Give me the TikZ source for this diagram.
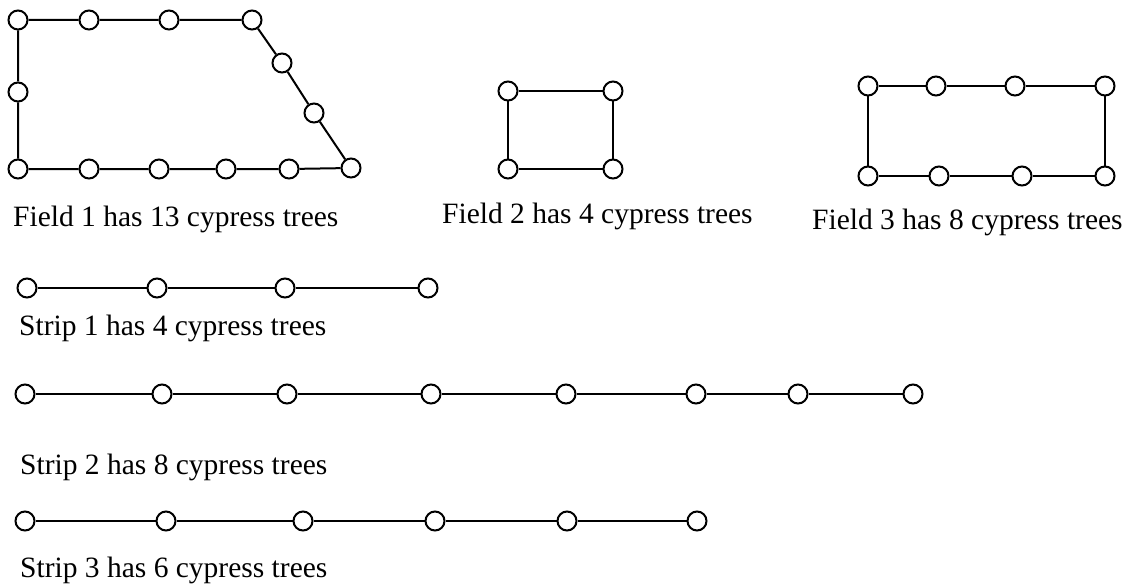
\documentclass[tikz,border=0pt]{standalone}
\usepackage{fontspec}
\setmainfont{Liberation Serif}
\begin{document}
\begin{tikzpicture}[x=1pt,y=-1pt,
  tree/.style={circle,draw,fill=white,line width=2pt,minimum size=19pt,inner sep=0pt},
  edge/.style={line width=2pt},
  lbl/.style={anchor=base west,inner sep=0pt,font=\fontsize{29.5}{35}\selectfont}]
\useasboundingbox (0,0) rectangle (1128,586);
% Field 1
\node[tree] (a1) at (18,20) {};
\node[tree] (a2) at (89,20) {};
\node[tree] (a3) at (169,20) {};
\node[tree] (a4) at (252,20) {};
\node[tree] (a5) at (282,63) {};
\node[tree] (a6) at (314,113) {};
\node[tree] (a7) at (351,168) {};
\node[tree] (a8) at (289,169) {};
\node[tree] (a9) at (226,169) {};
\node[tree] (a10) at (159,169) {};
\node[tree] (a11) at (89,169) {};
\node[tree] (a12) at (18,169) {};
\node[tree] (a13) at (18,92) {};
\draw[edge] (a1)--(a2)--(a3)--(a4)--(a5)--(a6)--(a7)--(a8)--(a9)--(a10)--(a11)--(a12)--(a13)--(a1);
\node[lbl] (l1) at (13,226) {Field 1 has 13 cypress trees};
% Field 2
\node[tree] (b1) at (508,91) {};
\node[tree] (b2) at (613,91) {};
\node[tree] (b3) at (613,169) {};
\node[tree] (b4) at (508,169) {};
\draw[edge] (b1)--(b2)--(b3)--(b4)--(b1);
\node[lbl] (l2) at (442,223) {Field 2 has 4 cypress trees};
% Field 3
\node[tree] (c1) at (868,86) {};
\node[tree] (c2) at (936,86) {};
\node[tree] (c3) at (1015,86) {};
\node[tree] (c4) at (1105,86) {};
\node[tree] (c5) at (1105,176) {};
\node[tree] (c6) at (1022,176) {};
\node[tree] (c7) at (939,176) {};
\node[tree] (c8) at (868,176) {};
\draw[edge] (c1)--(c2)--(c3)--(c4)--(c5)--(c6)--(c7)--(c8)--(c1);
\node[lbl] (l3) at (812,229) {Field 3 has 8 cypress trees};
% Strip 1
\node[tree] (d1) at (27,288) {};
\node[tree] (d2) at (157,288) {};
\node[tree] (d3) at (285,288) {};
\node[tree] (d4) at (428,288) {};
\draw[edge] (d1)--(d2)--(d3)--(d4);
\node[lbl] (l4) at (19,335) {Strip 1 has 4 cypress trees};
% Strip 2
\node[tree] (e1) at (25,394) {};
\node[tree] (e2) at (162,394) {};
\node[tree] (e3) at (287,394) {};
\node[tree] (e4) at (431,394) {};
\node[tree] (e5) at (566,394) {};
\node[tree] (e6) at (696,394) {};
\node[tree] (e7) at (798,394) {};
\node[tree] (e8) at (913,394) {};
\draw[edge] (e1)--(e2)--(e3)--(e4)--(e5)--(e6)--(e7)--(e8);
\node[lbl] (l5) at (20,474) {Strip 2 has 8 cypress trees};
% Strip 3
\node[tree] (g1) at (25,521) {};
\node[tree] (g2) at (166,521) {};
\node[tree] (g3) at (303,521) {};
\node[tree] (g4) at (435,521) {};
\node[tree] (g5) at (567,521) {};
\node[tree] (g6) at (697,521) {};
\draw[edge] (g1)--(g2)--(g3)--(g4)--(g5)--(g6);
\node[lbl] (l6) at (20,577) {Strip 3 has 6 cypress trees};
\end{tikzpicture}
\end{document}
